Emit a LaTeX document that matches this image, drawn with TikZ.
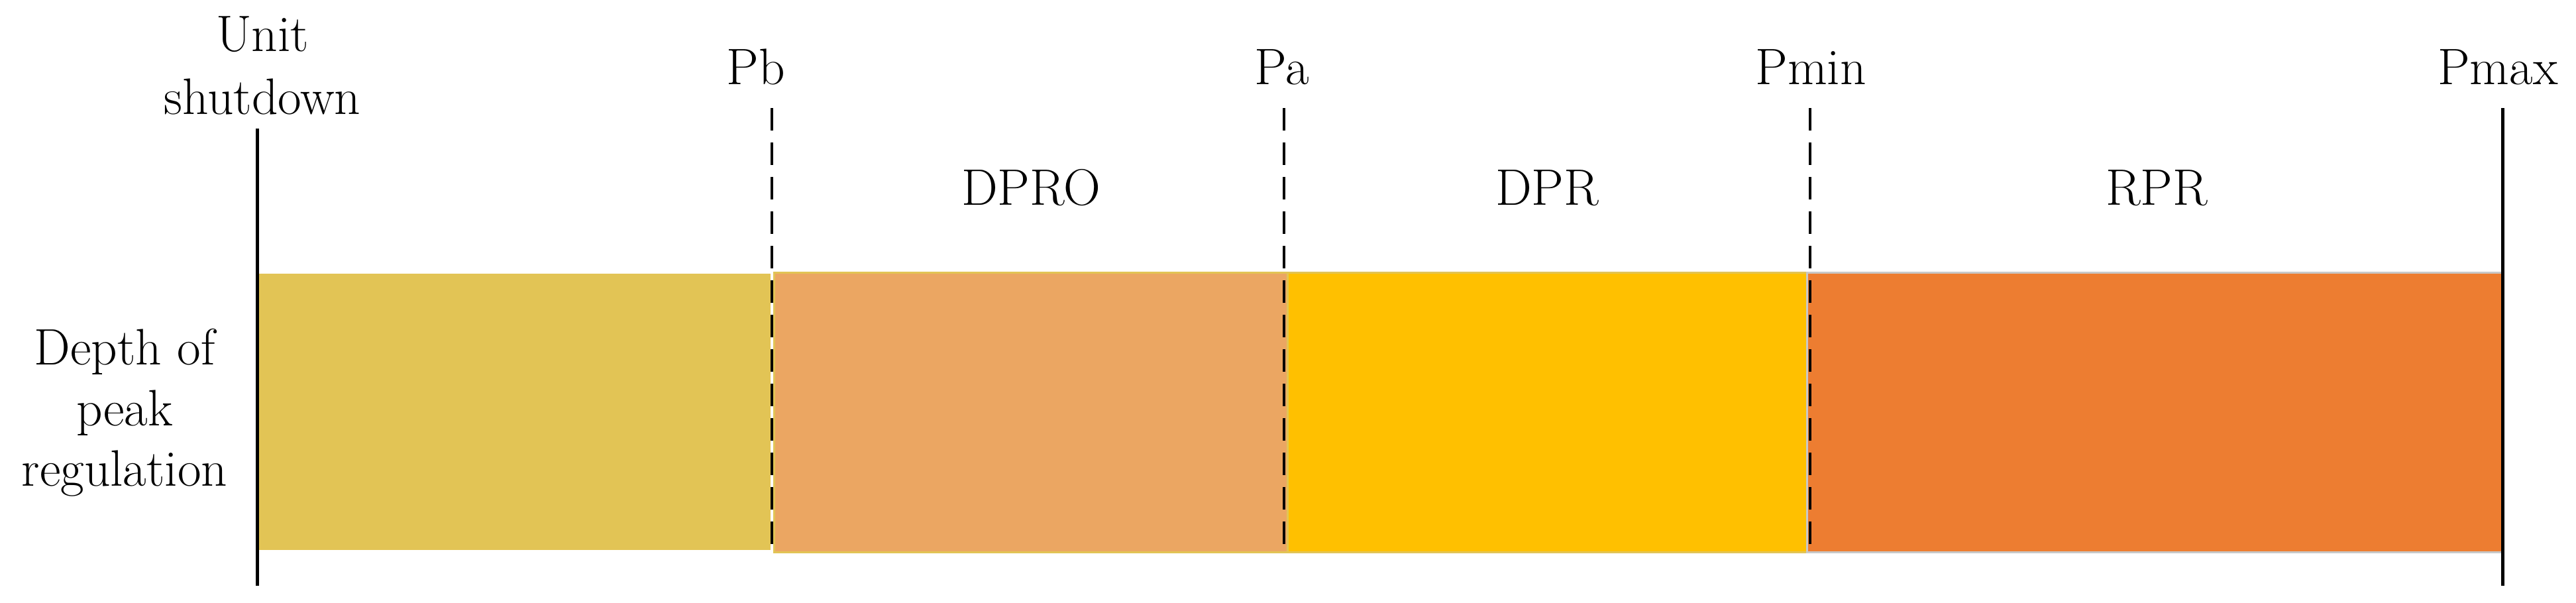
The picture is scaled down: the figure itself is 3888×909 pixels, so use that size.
\documentclass[tikz,border=0pt]{standalone}
\begin{document}
\begin{tikzpicture}[x=0.01cm,y=-0.01cm,
  lbl/.style={inner sep=0pt,outer sep=0pt,font=\fontsize{22}{27}\selectfont},
  solidline/.style={draw=black,line width=0.05cm},
  dashline/.style={draw=black,line width=0.045cm,dash pattern=on 0.34cm off 0.18cm},
  barbox/.style={line width=0.03cm}]
\definecolor{cA}{HTML}{E2C455}
\definecolor{cB}{HTML}{EBA662}
\definecolor{cC}{HTML}{FFC000}
\definecolor{cD}{HTML}{ED7D31}
\definecolor{cGray}{HTML}{C8C8C8}
\useasboundingbox (0,0) rectangle (3888,909);
% bars
\fill[cA] (390,413) rectangle (1163,830);
\filldraw[barbox,draw=cA,fill=cB] (1168,411) rectangle (1943,833);
\filldraw[barbox,draw=cA,fill=cC] (1943,411) rectangle (2727,833);
\filldraw[barbox,draw=cGray,fill=cD] (2727,411) rectangle (3777,833);
\fill[cD] (2729,413) rectangle (3775,831);
% coordinates
\coordinate (shT) at (388,194);
\coordinate (shB) at (388,884);
\coordinate (pbT) at (1165,163);
\coordinate (pbB) at (1165,832);
\coordinate (paT) at (1938,163);
\coordinate (paB) at (1938,832);
\coordinate (pminT) at (2732,163);
\coordinate (pminB) at (2732,832);
\coordinate (pmaxT) at (3777,163);
\coordinate (pmaxB) at (3777,884);
% lines
\draw[solidline] (shT) -- (shB);
\draw[dashline] (pbT) -- (pbB);
\draw[dashline] (paT) -- (paB);
\draw[dashline] (pminT) -- (pminB);
\draw[solidline] (pmaxT) -- (pmaxB);
% labels
\node[lbl,anchor=north,align=center] (unit) at (396,25) {Unit\\shutdown};
\node[lbl,anchor=north,align=center,font=\fontsize{22}{26.1}\selectfont] (depth) at (188,496) {Depth of\\peak\\regulation};
\node[lbl,anchor=base] (pb) at (1141,127) {Pb};
\node[lbl,anchor=base] (pa) at (1935,127) {Pa};
\node[lbl,anchor=base] (pmin) at (2733,127) {Pmin};
\node[lbl,anchor=base] (pmax) at (3770,127) {Pmax};
\node[lbl,anchor=base] (dpro) at (1556,309) {DPRO};
\node[lbl,anchor=base] (dpr) at (2335,309) {DPR};
\node[lbl,anchor=base] (rpr) at (3255,309) {RPR};
\end{tikzpicture}
\end{document}
